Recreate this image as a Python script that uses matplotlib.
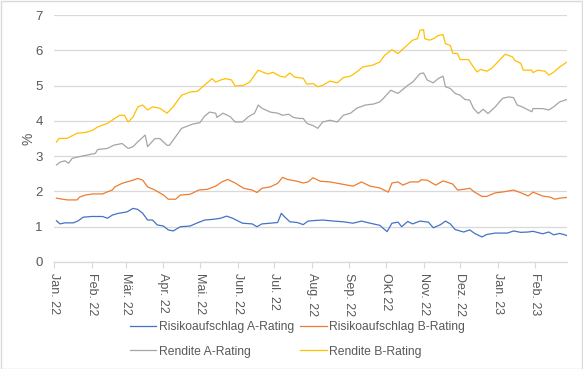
"""
Risikoaufschlag und Rendite für A- und B-Rating, Jan. 2022 bis Feb. 2023.
"""

import pandas as pd
import matplotlib.pyplot as plt
from matplotlib.patches import Rectangle

# ── DATA ─────────────────────────────────────────────────────────────────────
SPREAD_A_DATES = [
    '2022-01-03', '2022-01-06', '2022-01-10', '2022-01-17', '2022-01-21', '2022-01-25',
    '2022-02-01', '2022-02-10', '2022-02-14', '2022-02-18', '2022-02-23', '2022-03-02',
    '2022-03-07', '2022-03-11', '2022-03-15', '2022-03-19', '2022-03-23', '2022-03-27',
    '2022-04-01', '2022-04-05', '2022-04-09', '2022-04-15', '2022-04-23', '2022-04-29',
    '2022-05-05', '2022-05-12', '2022-05-18', '2022-05-23', '2022-05-28', '2022-06-05',
    '2022-06-13', '2022-06-17', '2022-06-21', '2022-06-28', '2022-07-04', '2022-07-07',
    '2022-07-10', '2022-07-14', '2022-07-20', '2022-07-25', '2022-07-29', '2022-08-05',
    '2022-08-10', '2022-08-19', '2022-08-27', '2022-09-04', '2022-09-11', '2022-09-18',
    '2022-09-26', '2022-10-02', '2022-10-06', '2022-10-11', '2022-10-14', '2022-10-19',
    '2022-10-23', '2022-10-29', '2022-11-05', '2022-11-09', '2022-11-15', '2022-11-19',
    '2022-11-23', '2022-11-27', '2022-12-04', '2022-12-09', '2022-12-13', '2022-12-19',
    '2022-12-23', '2022-12-30', '2023-01-09', '2023-01-14', '2023-01-20', '2023-01-26',
    '2023-01-30', '2023-02-07', '2023-02-12', '2023-02-16', '2023-02-21', '2023-02-27',
]
SPREAD_A = [
    1.17, 1.08, 1.11, 1.11, 1.17, 1.27,
    1.29, 1.29, 1.24, 1.33, 1.38, 1.42,
    1.52, 1.49, 1.38, 1.19, 1.19, 1.05,
    1.02, 0.91, 0.88, 1.00, 1.02, 1.11,
    1.19, 1.21, 1.24, 1.30, 1.24, 1.10,
    1.08, 1.00, 1.08, 1.10, 1.12, 1.38,
    1.27, 1.14, 1.12, 1.06, 1.16, 1.18,
    1.19, 1.16, 1.14, 1.10, 1.16, 1.10,
    1.04, 0.86, 1.10, 1.13, 1.00, 1.15,
    1.08, 1.16, 1.13, 0.97, 1.06, 1.16,
    1.08, 0.92, 0.85, 0.91, 0.81, 0.71,
    0.78, 0.82, 0.82, 0.88, 0.84, 0.85,
    0.87, 0.80, 0.85, 0.77, 0.81, 0.75,
]

SPREAD_B_DATES = [
    '2022-01-03', '2022-01-08', '2022-01-12', '2022-01-20', '2022-01-22', '2022-01-27',
    '2022-02-02', '2022-02-10', '2022-02-14', '2022-02-18', '2022-02-20', '2022-02-26',
    '2022-03-02', '2022-03-07', '2022-03-11', '2022-03-15', '2022-03-19', '2022-03-25',
    '2022-04-01', '2022-04-05', '2022-04-11', '2022-04-15', '2022-04-23', '2022-04-30',
    '2022-05-07', '2022-05-14', '2022-05-19', '2022-05-24', '2022-05-30', '2022-06-06',
    '2022-06-13', '2022-06-17', '2022-06-21', '2022-06-28', '2022-07-04', '2022-07-08',
    '2022-07-12', '2022-07-20', '2022-07-25', '2022-07-29', '2022-08-02', '2022-08-08',
    '2022-08-16', '2022-08-24', '2022-09-04', '2022-09-11', '2022-09-18', '2022-09-26',
    '2022-10-03', '2022-10-06', '2022-10-11', '2022-10-15', '2022-10-21', '2022-10-28',
    '2022-10-30', '2022-11-04', '2022-11-11', '2022-11-17', '2022-11-25', '2022-11-29',
    '2022-12-04', '2022-12-09', '2022-12-13', '2022-12-19', '2022-12-23', '2022-12-30',
    '2023-01-06', '2023-01-14', '2023-01-21', '2023-01-26', '2023-01-30', '2023-02-07',
    '2023-02-13', '2023-02-17', '2023-02-21', '2023-02-27',
]
SPREAD_B = [
    1.81, 1.78, 1.76, 1.76, 1.84, 1.90,
    1.93, 1.93, 1.99, 2.04, 2.13, 2.23,
    2.27, 2.32, 2.37, 2.32, 2.13, 2.04,
    1.90, 1.78, 1.78, 1.90, 1.92, 2.04,
    2.06, 2.15, 2.27, 2.34, 2.24, 2.09,
    2.04, 1.97, 2.09, 2.13, 2.23, 2.40,
    2.34, 2.29, 2.24, 2.27, 2.39, 2.29,
    2.27, 2.22, 2.15, 2.27, 2.15, 2.10,
    1.98, 2.24, 2.27, 2.18, 2.27, 2.27,
    2.33, 2.32, 2.18, 2.30, 2.21, 2.04,
    2.06, 2.09, 1.98, 1.86, 1.86, 1.96,
    1.99, 2.04, 1.95, 1.87, 1.98, 1.87,
    1.84, 1.78, 1.81, 1.83,
]

YIELD_A_DATES = [
    '2022-01-03', '2022-01-06', '2022-01-10', '2022-01-13', '2022-01-16', '2022-01-21',
    '2022-01-28', '2022-02-04', '2022-02-06', '2022-02-14', '2022-02-19', '2022-02-26',
    '2022-03-03', '2022-03-07', '2022-03-11', '2022-03-17', '2022-03-19', '2022-03-25',
    '2022-03-29', '2022-04-04', '2022-04-06', '2022-04-11', '2022-04-16', '2022-04-25',
    '2022-05-01', '2022-05-05', '2022-05-09', '2022-05-14', '2022-05-15', '2022-05-20',
    '2022-05-26', '2022-05-30', '2022-06-05', '2022-06-10', '2022-06-15', '2022-06-18',
    '2022-06-21', '2022-06-28', '2022-07-04', '2022-07-08', '2022-07-13', '2022-07-17',
    '2022-07-22', '2022-07-25', '2022-07-28', '2022-08-02', '2022-08-06', '2022-08-10',
    '2022-08-16', '2022-08-22', '2022-08-27', '2022-09-02', '2022-09-07', '2022-09-14',
    '2022-09-21', '2022-09-26', '2022-09-29', '2022-10-05', '2022-10-11', '2022-10-19',
    '2022-10-23', '2022-10-29', '2022-11-01', '2022-11-04', '2022-11-09', '2022-11-13',
    '2022-11-17', '2022-11-19', '2022-11-23', '2022-11-27', '2022-12-01', '2022-12-05',
    '2022-12-09', '2022-12-12', '2022-12-16', '2022-12-20', '2022-12-24', '2022-12-30',
    '2023-01-05', '2023-01-10', '2023-01-14', '2023-01-17', '2023-01-21', '2023-01-25',
    '2023-01-29', '2023-01-30', '2023-02-07', '2023-02-12', '2023-02-16', '2023-02-21',
    '2023-02-27',
]
YIELD_A = [
    2.75, 2.83, 2.87, 2.80, 2.94, 2.98,
    3.03, 3.08, 3.19, 3.22, 3.31, 3.36,
    3.22, 3.27, 3.41, 3.60, 3.27, 3.50,
    3.50, 3.31, 3.31, 3.55, 3.79, 3.91,
    3.95, 4.14, 4.25, 4.22, 4.10, 4.22,
    4.12, 3.97, 3.97, 4.12, 4.22, 4.45,
    4.36, 4.25, 4.22, 4.16, 4.19, 4.10,
    4.07, 4.07, 3.93, 3.87, 3.79, 3.97,
    4.02, 3.97, 4.16, 4.22, 4.36, 4.45,
    4.48, 4.54, 4.64, 4.87, 4.78, 5.01,
    5.10, 5.34, 5.36, 5.16, 5.08, 5.20,
    5.27, 4.97, 4.92, 4.78, 4.73, 4.61,
    4.59, 4.36, 4.21, 4.33, 4.21, 4.40,
    4.64, 4.68, 4.66, 4.45, 4.40, 4.33,
    4.26, 4.35, 4.35, 4.31, 4.40, 4.54,
    4.61,
]

YIELD_B_DATES = [
    '2022-01-03', '2022-01-05', '2022-01-12', '2022-01-20', '2022-01-28', '2022-02-02',
    '2022-02-06', '2022-02-14', '2022-02-20', '2022-02-24', '2022-02-28', '2022-03-03',
    '2022-03-07', '2022-03-11', '2022-03-15', '2022-03-19', '2022-03-23', '2022-03-29',
    '2022-04-04', '2022-04-09', '2022-04-16', '2022-04-23', '2022-04-29', '2022-05-04',
    '2022-05-11', '2022-05-14', '2022-05-18', '2022-05-22', '2022-05-27', '2022-05-30',
    '2022-06-06', '2022-06-11', '2022-06-15', '2022-06-18', '2022-06-22', '2022-06-26',
    '2022-06-30', '2022-07-06', '2022-07-10', '2022-07-14', '2022-07-18', '2022-07-25',
    '2022-07-28', '2022-08-02', '2022-08-06', '2022-08-10', '2022-08-16', '2022-08-22',
    '2022-08-27', '2022-09-02', '2022-09-07', '2022-09-12', '2022-09-20', '2022-09-26',
    '2022-09-30', '2022-10-06', '2022-10-11', '2022-10-17', '2022-10-23', '2022-10-27',
    '2022-10-29', '2022-11-01', '2022-11-02', '2022-11-06', '2022-11-09', '2022-11-13',
    '2022-11-17', '2022-11-19', '2022-11-23', '2022-11-25', '2022-11-29', '2022-12-01',
    '2022-12-08', '2022-12-11', '2022-12-15', '2022-12-18', '2022-12-23', '2022-12-27',
    '2023-01-01', '2023-01-07', '2023-01-13', '2023-01-15', '2023-01-20', '2023-01-22',
    '2023-01-29', '2023-01-30', '2023-02-03', '2023-02-09', '2023-02-12', '2023-02-16',
    '2023-02-21', '2023-02-27',
]
YIELD_B = [
    3.40, 3.50, 3.51, 3.65, 3.68, 3.74,
    3.83, 3.93, 4.07, 4.16, 4.16, 3.97,
    4.11, 4.40, 4.45, 4.31, 4.40, 4.36,
    4.22, 4.40, 4.73, 4.82, 4.84, 4.99,
    5.20, 5.10, 5.16, 5.20, 5.16, 4.99,
    5.01, 5.10, 5.30, 5.44, 5.38, 5.33,
    5.38, 5.27, 5.24, 5.36, 5.24, 5.21,
    5.04, 5.06, 4.97, 5.01, 5.13, 5.08,
    5.23, 5.27, 5.39, 5.53, 5.58, 5.67,
    5.86, 6.02, 5.91, 6.10, 6.29, 6.33,
    6.57, 6.59, 6.33, 6.29, 6.33, 6.42,
    6.45, 6.19, 6.14, 5.92, 5.91, 5.74,
    5.74, 5.58, 5.39, 5.46, 5.41, 5.49,
    5.67, 5.89, 5.82, 5.72, 5.63, 5.44,
    5.44, 5.37, 5.44, 5.41, 5.30, 5.38,
    5.53, 5.67,
]

MONTH_LABELS = ['Jan. 22', 'Feb. 22', 'Mär. 22', 'Apr. 22', 'Mai. 22', 'Jun. 22',
                'Jul. 22', 'Aug. 22', 'Sep. 22', 'Okt 22', 'Nov. 22', 'Dez. 22',
                'Jan. 23', 'Feb. 23']

SERIES = [
    # (label, dates, values, color)
    ('Risikoaufschlag A-Rating', SPREAD_A_DATES, SPREAD_A, '#4472C4'),
    ('Risikoaufschlag B-Rating', SPREAD_B_DATES, SPREAD_B, '#ED7D31'),
    ('Rendite A-Rating', YIELD_A_DATES, YIELD_A, '#A5A5A5'),
    ('Rendite B-Rating', YIELD_B_DATES, YIELD_B, '#FFC000'),
]

TEXT_COLOR = '#595959'
GRID_COLOR = '#D9D9D9'
# ─────────────────────────────────────────────────────────────────────────────

plt.rcParams['font.family'] = ['Liberation Sans', 'DejaVu Sans']

fig = plt.figure(figsize=(5.83, 3.69), dpi=100)
ax = fig.add_axes([0.0926, 0.29, 0.88, 0.669])

handles = {}
for label, dates, values, color in SERIES:
    line, = ax.plot(pd.to_datetime(dates), values, color=color, linewidth=0.9, label=label)
    handles[label] = line

ax.set_ylim(0, 7)
ax.set_yticks(range(0, 8))
ax.set_xlim(pd.Timestamp('2022-01-01'), pd.Timestamp('2023-02-27'))
month_starts = pd.date_range('2022-01-01', periods=len(MONTH_LABELS), freq='MS')
ax.set_xticks(month_starts)
ax.set_xticklabels(MONTH_LABELS, rotation=-90, va='top', ha='center')

ax.grid(axis='y', color=GRID_COLOR, linewidth=0.9)
ax.set_axisbelow(True)
for side in ['top', 'right', 'left']:
    ax.spines[side].set_visible(False)
ax.spines['bottom'].set_color(GRID_COLOR)
ax.spines['bottom'].set_linewidth(0.9)
ax.tick_params(axis='y', length=0, pad=8, labelsize=9.5, labelcolor=TEXT_COLOR)
ax.tick_params(axis='x', length=4, color=GRID_COLOR, pad=4, labelsize=9,
               labelcolor=TEXT_COLOR)
ax.set_ylabel('%', color=TEXT_COLOR, fontsize=10, labelpad=0)

order = ['Risikoaufschlag A-Rating', 'Rendite A-Rating',
         'Risikoaufschlag B-Rating', 'Rendite B-Rating']
fig.legend([handles[k] for k in order], order, loc='center', ncol=2,
           bbox_to_anchor=(0.51, 0.08), frameon=False, fontsize=8.7,
           labelcolor=TEXT_COLOR, handlelength=2.2, handletextpad=0.2,
           columnspacing=0.5, labelspacing=1.0)

fig.patches.append(Rectangle((0.001, 0.001), 0.997, 0.997, transform=fig.transFigure,
                             fill=False, edgecolor=GRID_COLOR, linewidth=1.0))

fig.savefig('out.png', dpi=100)
